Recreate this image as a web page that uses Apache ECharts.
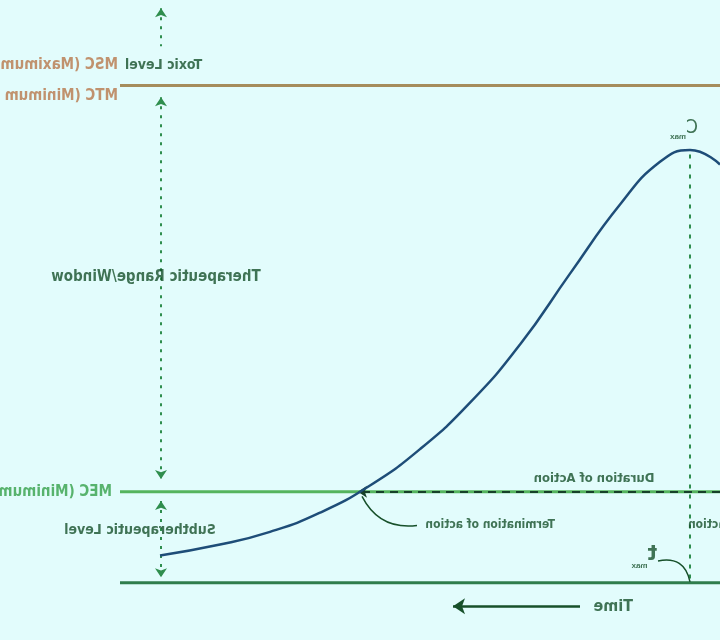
<!DOCTYPE html>
<html>
<head>
<meta charset="utf-8">
<script src="https://cdn.jsdelivr.net/npm/echarts@6/dist/echarts.min.js"></script>
<style>
  html, body { margin: 0; background: #e2fcfc; }
  /* the reference picture is a mirror image, so the whole chart is flipped */
  #main { width: 720px; height: 640px; transform: scaleX(-1); }
</style>
</head>
<body>
<div id="main"></div>
<script>
// time (arbitrary units) and plasma concentration (arbitrary units)
var timeRange = [0, 72];
var concRange = [-6.3, 64.1];

var curveTime = [0, 3, 6, 10, 15, 20, 25, 30, 35, 40, 45, 50, 56];
var curveConc = [46.0, 47.6, 46.3, 41.6, 34.0, 26.2, 19.8, 14.7, 10.7, 7.7, 5.6, 4.2, 3.0];

var toxicLevel = 54.7;
var mecLevel = 10;
var levelEnd = 60;
var tmax = 3, cmax = 47.6;
var mecCross = 36.2;

var windowX = 55.9;
var windowTop = [63.2, 59.0];
var windowSpans = [[53.4, 11.4], [9.0, 0.6]];

var labelText = ["Toxic Level", "MSC (Maximum Safe Concentration)", "MTC (Minimum Toxic Concentration)",
  "MEC (Minimum Effective Concentration)", "Therapeutic Range/Window", "Subtherapeutic Level",
  "Duration of Action", "Termination of action", "Onset of action", "Time"];
var labelAt = [[59.5, 56.9], [60.2, 56.9], [60.2, 53.5], [60.8, 10], [56.4, 33.6], [58, 5.8],
  [12.6, 11.4], [16.5, 6.4], [3.2, 6.4], [8.7, -2.6]];

var FONT = "'Liberation Sans Narrow', 'DejaVu Sans Condensed', sans-serif";
var DARK = "#17502a";
var labelStyle = [
  {align: "right", color: DARK, fontSize: 14},
  {align: "left", color: "#b8774a", fontSize: 15},
  {align: "left", color: "#b8774a", fontSize: 15},
  {align: "left", color: "#35a048", fontSize: 15},
  {align: "center", color: DARK, fontSize: 15},
  {align: "center", color: DARK, fontSize: 14},
  {align: "center", color: DARK, fontSize: 13},
  {align: "left", color: DARK, fontSize: 12},
  {align: "right", color: DARK, fontSize: 12},
  {align: "left", color: DARK, fontSize: 16}
];

var labels = labelText.map(function (t, i) {
  var s = labelStyle[i];
  return {
    value: labelAt[i],
    label: {show: true, position: "inside", formatter: t, align: s.align, verticalAlign: "middle",
      color: s.color, fontSize: s.fontSize, fontWeight: "bold", fontFamily: FONT}
  };
});
labels.push({
  value: [2.2, 50.0],
  label: {show: true, position: "inside", align: "left", verticalAlign: "middle", formatter: "{c|C}{s|max}",
    rich: {c: {fontSize: 19, color: DARK, fontFamily: FONT}, s: {fontSize: 8, fontWeight: "bold", color: DARK, verticalAlign: "bottom", padding: [18, 0, 0, 0]}}}
});
labels.push({
  value: [6.3, 3.1],
  label: {show: true, position: "inside", align: "left", verticalAlign: "middle", formatter: "{c|t}{s|max}",
    rich: {c: {fontSize: 22, fontWeight: "bold", color: DARK, fontFamily: FONT}, s: {fontSize: 8, fontWeight: "bold", color: DARK, verticalAlign: "bottom", padding: [22, 0, 0, 0]}}}
});

function level(y, color) {
  return {type: "line", data: [[0, y], [levelEnd, y]], symbol: "none", silent: true, z: 1,
    lineStyle: {color: color, width: 3}};
}

function arrows(coords, sym, style, size, curve) {
  return {
    type: "lines", coordinateSystem: "cartesian2d", silent: true, z: 3,
    symbol: sym, symbolSize: size,
    lineStyle: Object.assign({curveness: curve || 0, opacity: 1}, style),
    data: coords.map(function (c) { return {coords: c}; })
  };
}

var dotted = {color: "#2f8e4e", width: 2, type: [3, 6]};

var chart = echarts.init(document.getElementById("main"));
chart.setOption({
  backgroundColor: "#e2fcfc",
  animation: false,
  grid: {left: 0, right: 0, top: 0, bottom: 0},
  xAxis: {type: "value", min: timeRange[0], max: timeRange[1], show: false},
  yAxis: {type: "value", min: concRange[0], max: concRange[1], show: false},
  series: [
    level(toxicLevel, "#a58c5c"),
    level(mecLevel, "#55b45e"),
    level(0, "#2f7d4c"),
    arrows([[[windowX, windowTop[0]], [windowX, windowTop[1]]]], ["arrow", "none"], dotted, 9),
    arrows(windowSpans.map(function (s) { return [[windowX, s[0]], [windowX, s[1]]]; }), ["arrow", "arrow"], dotted, 9),
    arrows([[[tmax, cmax - 0.5], [tmax, 0]]], ["none", "none"], {color: "#2f8e4e", width: 2, type: [4, 6]}, 0),
    arrows([[[0, mecLevel], [mecCross, mecLevel]]], ["none", "arrow"], {color: "#17402a", width: 2, type: [8, 6]}, 9),
    arrows([[[30.3, 6.3], [35.8, 9.5]]], ["none", "none"], {color: DARK, width: 1.5}, 0, -0.35),
    arrows([[[6.2, 2.4], [3, 0.1]]], ["none", "none"], {color: DARK, width: 1.5}, 0, -0.5),
    arrows([[[14, -2.6], [26.7, -2.6]]], ["none", "arrow"], {color: DARK, width: 2.5}, 12),
    {
      type: "line", smooth: 0.5, symbol: "none", silent: true, z: 4,
      data: curveTime.map(function (t, i) { return [t, curveConc[i]]; }),
      lineStyle: {color: "#1e4d78", width: 2.5}
    },
    {type: "scatter", symbolSize: 0, silent: true, data: labels, z: 5}
  ]
});
</script>
</body>
</html>
